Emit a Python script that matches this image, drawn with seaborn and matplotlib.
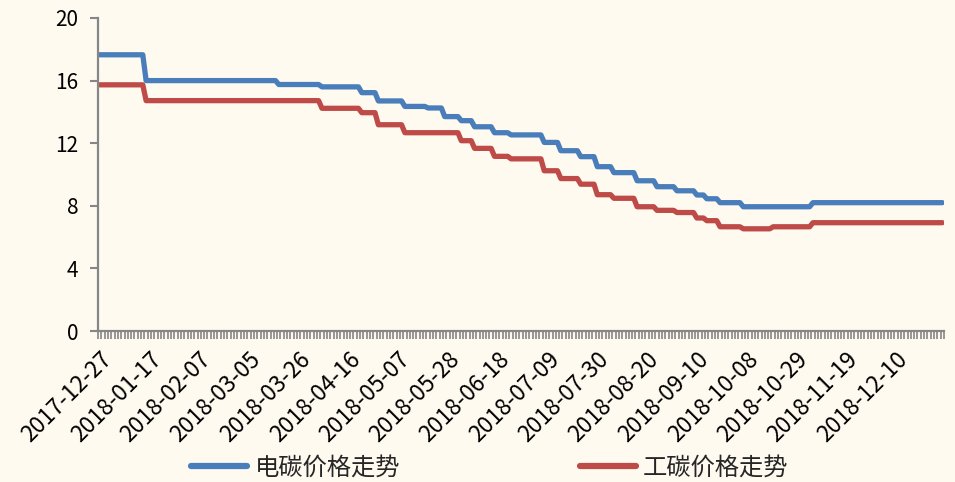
import matplotlib
matplotlib.use("Agg")
import matplotlib.pyplot as plt
import matplotlib.transforms as mtransforms
import numpy as np
import pandas as pd
import seaborn as sns

# Trading days shown on the category axis
calendar_start = "2017-12-27"
calendar_end = "2018-12-28"
closed_days = ["2018-02-16", "2018-02-19", "2018-02-20",
               "2018-10-01", "2018-10-02", "2018-10-03", "2018-10-04", "2018-10-05"]

# Price levels and the trading day each level takes effect
series_names = ["电碳价格走势", "工碳价格走势"]

elec_dates = ["2017-12-27", "2018-01-16", "2018-03-16", "2018-04-04", "2018-04-20",
              "2018-04-27", "2018-05-09", "2018-05-18", "2018-05-25", "2018-06-01",
              "2018-06-07", "2018-06-15", "2018-06-22", "2018-07-06", "2018-07-13",
              "2018-07-23", "2018-07-30", "2018-08-06", "2018-08-15", "2018-08-23",
              "2018-08-31", "2018-09-10", "2018-09-13", "2018-09-19", "2018-09-28",
              "2018-11-05"]
elec_levels = [17.65, 16.0, 15.75, 15.6, 15.23,
               14.7, 14.35, 14.25, 13.7, 13.44,
               13.05, 12.67, 12.53, 12.05, 11.52,
               11.14, 10.5, 10.12, 9.6, 9.22,
               8.96, 8.69, 8.45, 8.2, 7.94,
               8.2]

ind_dates = ["2017-12-27", "2018-01-16", "2018-04-04", "2018-04-20", "2018-04-27",
             "2018-05-09", "2018-06-01", "2018-06-07", "2018-06-15", "2018-06-22",
             "2018-07-06", "2018-07-13", "2018-07-23", "2018-07-30", "2018-08-06",
             "2018-08-15", "2018-08-23", "2018-08-31", "2018-09-10", "2018-09-13",
             "2018-09-19", "2018-09-28", "2018-10-18", "2018-11-05"]
ind_levels = [15.73, 14.72, 14.23, 13.95, 13.18,
              12.67, 12.16, 11.67, 11.16, 11.0,
              10.24, 9.74, 9.38, 8.71, 8.48,
              7.94, 7.71, 7.57, 7.22, 7.05,
              6.66, 6.53, 6.66, 6.92]

label_every = 15
colors = ["#4A7EBB", "#BE4B48"]
bg = "#FEFAF0"
axis_gray = "#868686"

days = pd.bdate_range(calendar_start, calendar_end)
days = days[~days.isin(pd.to_datetime(closed_days))]
n = len(days)
pos = np.arange(n)


def daily(change_dates, levels):
    starts = days.searchsorted(pd.to_datetime(change_dates))
    which = np.searchsorted(starts, pos, side="right") - 1
    return np.asarray(levels)[which]


frames = []
for name, cd, lv in [(series_names[0], elec_dates, elec_levels),
                     (series_names[1], ind_dates, ind_levels)]:
    frames.append(pd.DataFrame({"pos": pos, "price": daily(cd, lv), "series": name}))
df = pd.concat(frames, ignore_index=True)

sns.set_theme(style="white")
plt.rcParams["font.family"] = ["Noto Sans CJK SC", "DejaVu Sans"]

fig = plt.figure(figsize=(9.55, 4.82), dpi=100, facecolor=bg)
ax = fig.add_axes([98 / 955, 1 - 331 / 482, (944 - 98) / 955, (331 - 18) / 482])
ax.set_facecolor(bg)

sns.lineplot(data=df, x="pos", y="price", hue="series", hue_order=series_names,
             palette=colors, linewidth=3.8, ax=ax, legend=True,
             solid_capstyle="round", solid_joinstyle="round")

ax.set_xlim(-0.5, n - 0.5)
ax.set_ylim(0, 20)
ax.set_yticks(np.arange(0, 21, 4))
ax.set_xlabel("")
ax.set_ylabel("")

major = pos[::label_every]
ax.set_xticks(major)
ax.set_xticklabels([days[i].strftime("%Y-%m-%d") for i in major],
                   rotation=45, ha="right", rotation_mode="anchor", fontsize=16.4)
shift = mtransforms.ScaledTranslation(-8 / 100, -4 / 100, fig.dpi_scale_trans)
for lab in ax.get_xticklabels():
    lab.set_transform(lab.get_transform() + shift)
ax.set_xticks(np.arange(-0.5, n, 1.0), minor=True)
ax.tick_params(axis="x", which="major", length=0, pad=12, colors="black")
ax.tick_params(axis="x", which="minor", length=6, width=1.2, color=axis_gray, bottom=True)
ax.tick_params(axis="y", which="major", length=6, width=1.5, color=axis_gray,
               left=True, pad=8, labelsize=15, labelcolor="black")

for side in ["top", "right"]:
    ax.spines[side].set_visible(False)
for side in ["left", "bottom"]:
    ax.spines[side].set_color(axis_gray)
    ax.spines[side].set_linewidth(1.6)

handles, labels = ax.get_legend_handles_labels()
ax.get_legend().remove()
leg = fig.legend(handles, labels, loc="center", bbox_to_anchor=(490 / 955, 1 - 468 / 482),
                 ncol=2, frameon=False, fontsize=17.5, handlelength=2.3,
                 columnspacing=7.4, handletextpad=0.3)
for line in leg.get_lines():
    line.set_linewidth(4.5)

fig.savefig("out.png", dpi=100, facecolor=bg)
